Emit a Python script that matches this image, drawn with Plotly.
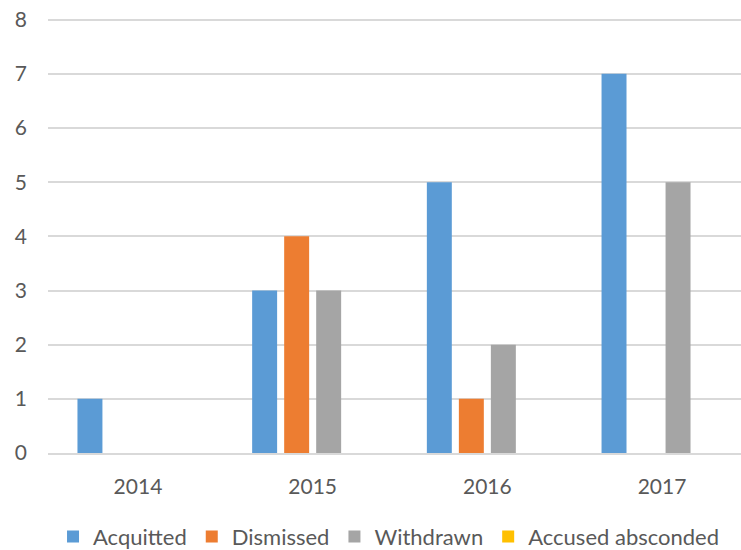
import plotly.graph_objects as go

years = ["2014", "2015", "2016", "2017"]
acquitted = [1, 3, 5, 7]
dismissed = [0, 4, 1, 0]
withdrawn = [0, 3, 2, 5]
accused_absconded = [0, 0, 0, 0]

series = [
    ("Acquitted", acquitted, "#5B9BD5"),
    ("Dismissed", dismissed, "#ED7D31"),
    ("Withdrawn", withdrawn, "#A5A5A5"),
    ("Accused absconded", accused_absconded, "#FFC000"),
]

font_family = "Lato, 'Liberation Sans', sans-serif"
text_color = "#595959"

fig = go.Figure()
for name, values, color in series:
    fig.add_trace(go.Bar(
        name=name, x=years, y=values,
        marker=dict(color=color, line=dict(width=0)),
    ))

fig.update_layout(
    width=741, height=550,
    margin=dict(l=48, r=0, t=17, b=97, autoexpand=False),
    paper_bgcolor="white", plot_bgcolor="white",
    barmode="group", bargap=0.267, bargroupgap=0.22,
    font=dict(family=font_family, size=21, color=text_color),
    showlegend=True,
    legend=dict(
        orientation="h", xref="container", x=0.525, xanchor="center",
        yref="container", y=0.024, yanchor="middle",
        font=dict(size=22, color=text_color),
        itemsizing="constant", traceorder="normal",
        itemwidth=30,
    ),
    xaxis=dict(
        type="category", range=[-0.515, 3.452], automargin=False,
        showgrid=False, showline=True, linecolor="#D9D9D9", linewidth=1.5,
        ticks="", ticklabelstandoff=14,
        tickfont=dict(size=21, color=text_color),
    ),
    yaxis=dict(
        range=[0, 8.05], tickvals=list(range(9)), showgrid=True,
        gridcolor="#D9D9D9", gridwidth=1.5, automargin=False,
        zeroline=False, showline=False, ticks="", ticklabelstandoff=20,
        tickfont=dict(size=21, color=text_color),
    ),
)

fig.write_html("out.html")
